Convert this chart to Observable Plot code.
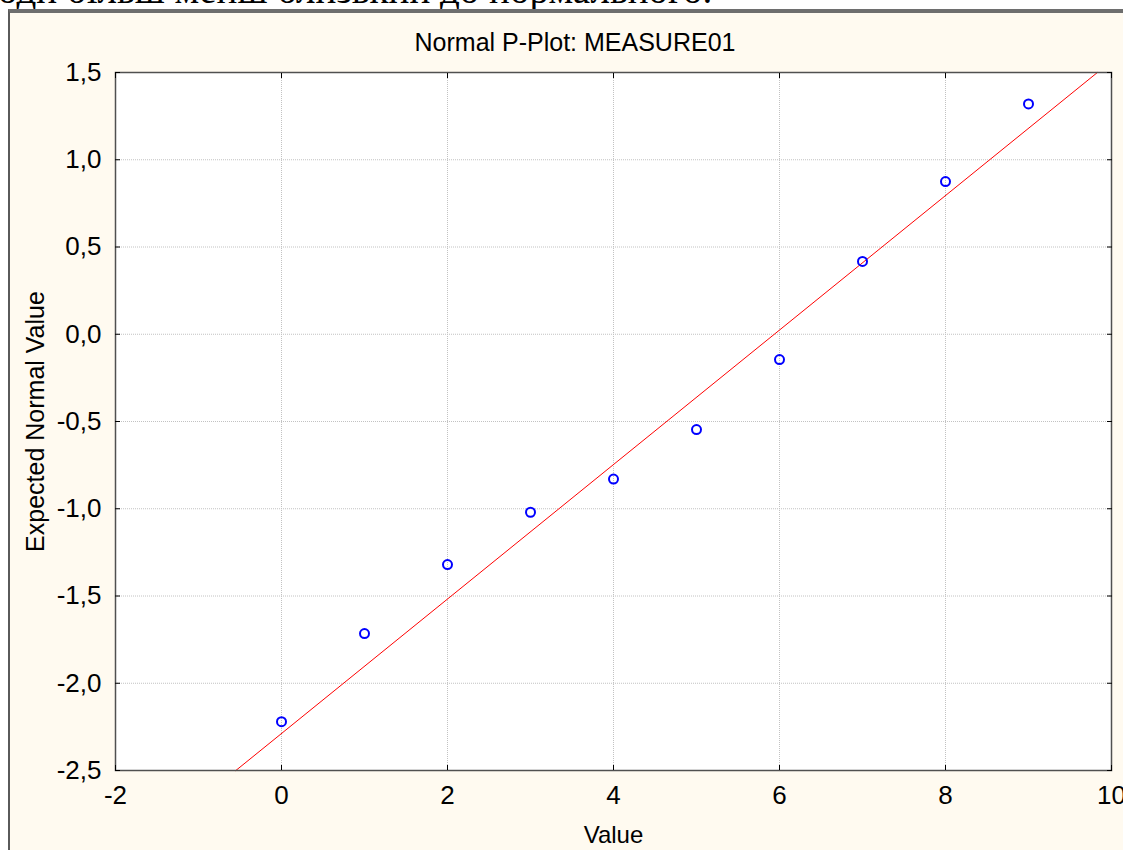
<!DOCTYPE html>
<html><head><meta charset="utf-8">
<script src="https://cdn.jsdelivr.net/npm/d3@7"></script>
<script src="https://cdn.jsdelivr.net/npm/@observablehq/plot@0.6"></script>
<style>
html,body{margin:0;padding:0;width:1123px;height:850px;overflow:hidden;background:#fff;}
#doc{position:absolute;left:-2px;top:-30px;font:39px/39px "Liberation Serif","Times New Roman",serif;white-space:nowrap;color:#000;}
#win{position:absolute;left:8px;top:9px;width:1115px;height:841px;background:#fffaf0;border-top:4px solid #6e6e6e;border-left:2px solid #5a5a5a;box-sizing:border-box;}
#title{position:absolute;left:0;width:1150px;top:28px;text-align:center;font:25px "Liberation Sans",Arial,sans-serif;color:#000;}
#chart{position:absolute;left:0;top:0;}
</style>
</head><body>
<div id="doc">оди більш менш близький до нормального.</div>
<div id="win"></div>
<div id="title">Normal P-Plot: MEASURE01</div>
<div id="chart"></div>
<script>
// Data
const values = [0, 1, 2, 3, 4, 5, 6, 7, 8, 9];
const expectedNormal = [-2.22, -1.715, -1.32, -1.02, -0.83, -0.546, -0.145, 0.417, 0.875, 1.32];
const fitLineX = [-0.55, 9.83];
const fitLineY = [-2.5, 1.5];
const xTicks = [-2, 0, 2, 4, 6, 8, 10];
const yTicks = [-2.5, -2.0, -1.5, -1.0, -0.5, 0.0, 0.5, 1.0, 1.5];
const xLabel = "Value";
const yLabel = "Expected Normal Value";

const points = values.map((v, i) => ({x: v, y: expectedNormal[i]}));
const fit = fitLineX.map((v, i) => ({x: v, y: fitLineY[i]}));
const fmtY = d => d.toFixed(1).replace(".", ",");
const fmtX = d => String(d);

const chart = Plot.plot({
  width: 1123,
  height: 850,
  marginLeft: 115,
  marginRight: 12,
  marginTop: 72,
  marginBottom: 80,
  style: {background: "transparent", fontFamily: "'Liberation Sans', Arial, sans-serif", fontSize: "26px", color: "#000", overflow: "visible"},
  x: {domain: [-2, 10]},
  y: {domain: [-2.5, 1.5]},
  marks: [
    Plot.frame({fill: "white", stroke: null}),
    Plot.gridX(xTicks, {stroke: "#c2c2c2", strokeOpacity: 1, strokeDasharray: "1,1"}),
    Plot.gridY(yTicks, {stroke: "#c2c2c2", strokeOpacity: 1, strokeDasharray: "1,1"}),
    Plot.line(fit, {x: "x", y: "y", stroke: "#ff0000", strokeWidth: 1}),
    Plot.dot(points, {x: "x", y: "y", r: 4.5, stroke: "#0000ff", strokeWidth: 2, fill: "none"}),
    Plot.frame({stroke: "#505050", strokeWidth: 1.5}),
    Plot.axisX(xTicks, {anchor: "bottom", tickSize: 0, tickPadding: 15, fontSize: 26, tickFormat: fmtX, label: null}),
    Plot.axisY(yTicks, {anchor: "left", tickSize: 0, tickPadding: 14, fontSize: 26, tickFormat: fmtY, label: null}),
    Plot.axisX(xTicks, {anchor: "bottom", tickSize: 5, dy: -5, text: null, label: null, stroke: "#000"}),
    Plot.axisX(xTicks, {anchor: "top", tickSize: 5, dy: 5, text: null, label: null, stroke: "#000"}),
    Plot.axisY(yTicks, {anchor: "left", tickSize: 5, dx: 5, text: null, label: null, stroke: "#000"}),
    Plot.axisY(yTicks, {anchor: "right", tickSize: 5, dx: -5, text: null, label: null, stroke: "#000"}),
    Plot.text([xLabel], {frameAnchor: "bottom", dy: 65, lineAnchor: "middle", textAnchor: "middle", text: d => d, fontSize: 24, fill: "#000"}),
    Plot.text([yLabel], {frameAnchor: "left", dx: -80, rotate: -90, lineAnchor: "middle", textAnchor: "middle", text: d => d, fontSize: 25, fill: "#000"})
  ]
});
document.getElementById("chart").appendChild(chart);
</script>
</body></html>
